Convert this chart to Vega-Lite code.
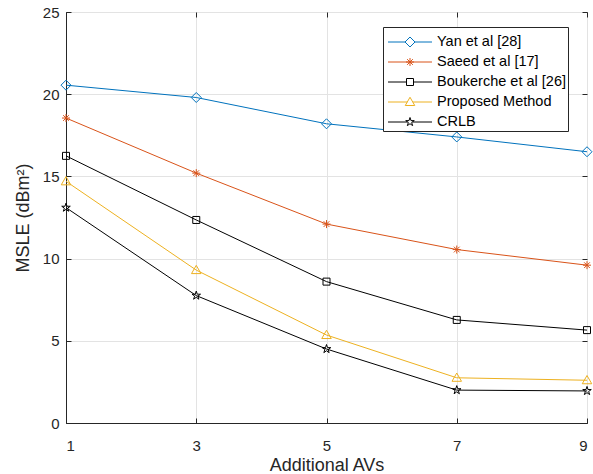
{
  "$schema": "https://vega.github.io/schema/vega-lite/v6.json",
  "width": 521,
  "height": 411,
  "autosize": "none",
  "padding": {"left": 66, "top": 12, "right": 6, "bottom": 51},
  "background": "white",
  "config": {
    "font": "Liberation Sans",
    "view": {"stroke": "#262626", "strokeWidth": 1},
    "axis": {
      "labelFont": "Liberation Sans", "labelFontSize": 15, "labelColor": "#262626",
      "titleFont": "Liberation Sans", "titleFontSize": 18, "titleFontWeight": "normal", "titleColor": "#262626",
      "domainColor": "#262626", "tickColor": "#262626", "tickSize": -5,
      "gridColor": "#e3e3e3", "gridWidth": 1
    }
  },
  "data": {"values": [
    {"x": 1, "y": 20.55, "series": "Yan et al [28]"},
    {"x": 3, "y": 19.8, "series": "Yan et al [28]"},
    {"x": 5, "y": 18.2, "series": "Yan et al [28]"},
    {"x": 7, "y": 17.4, "series": "Yan et al [28]"},
    {"x": 9, "y": 16.5, "series": "Yan et al [28]"},
    {"x": 1, "y": 18.55, "series": "Saeed et al [17]"},
    {"x": 3, "y": 15.2, "series": "Saeed et al [17]"},
    {"x": 5, "y": 12.1, "series": "Saeed et al [17]"},
    {"x": 7, "y": 10.55, "series": "Saeed et al [17]"},
    {"x": 9, "y": 9.6, "series": "Saeed et al [17]"},
    {"x": 1, "y": 16.25, "series": "Boukerche et al [26]"},
    {"x": 3, "y": 12.35, "series": "Boukerche et al [26]"},
    {"x": 5, "y": 8.6, "series": "Boukerche et al [26]"},
    {"x": 7, "y": 6.27, "series": "Boukerche et al [26]"},
    {"x": 9, "y": 5.65, "series": "Boukerche et al [26]"},
    {"x": 1, "y": 14.7, "series": "Proposed Method"},
    {"x": 3, "y": 9.3, "series": "Proposed Method"},
    {"x": 5, "y": 5.35, "series": "Proposed Method"},
    {"x": 7, "y": 2.75, "series": "Proposed Method"},
    {"x": 9, "y": 2.6, "series": "Proposed Method"},
    {"x": 1, "y": 13.1, "series": "CRLB"},
    {"x": 3, "y": 7.75, "series": "CRLB"},
    {"x": 5, "y": 4.5, "series": "CRLB"},
    {"x": 7, "y": 2.0, "series": "CRLB"},
    {"x": 9, "y": 1.95, "series": "CRLB"}
  ]},
  "encoding": {
    "x": {"field": "x", "type": "quantitative",
      "scale": {"domain": [1, 9], "nice": false, "zero": false}, "axis": null},
    "y": {"field": "y", "type": "quantitative",
      "scale": {"domain": [0, 25], "nice": false}, "axis": null}
  },
  "resolve": {"axis": {"x": "independent", "y": "independent"}},
  "layer": [
    {
      "transform": [{"filter": "datum.series === 'Yan et al [28]'"}],
      "mark": {"type": "line", "strokeWidth": 1, "color": "#0072BD",
        "point": {"filled": false, "size": 100, "strokeWidth": 1, "color": "#0072BD", "shape": "M0,-1L1,0L0,1L-1,0Z"}},
      "encoding": {
        "x": {"field": "x", "type": "quantitative",
          "scale": {"domain": [1, 9], "nice": false, "zero": false},
          "axis": {"values": [1, 3, 5, 7, 9], "title": "Additional AVs", "labelPadding": 20, "titlePadding": 3, "grid": true}},
        "y": {"field": "y", "type": "quantitative",
          "scale": {"domain": [0, 25], "nice": false},
          "axis": {"values": [0, 5, 10, 15, 20, 25], "title": "MSLE (dBm²)", "labelPadding": 12, "titlePadding": 10, "grid": true}}
      }
    },
    {
      "transform": [{"filter": "datum.series === 'Saeed et al [17]'"}],
      "mark": {"type": "line", "strokeWidth": 1, "color": "#D95319",
        "point": {"filled": false, "size": 100, "strokeWidth": 1, "color": "#D95319", "shape": "M-0.8,0H0.8M0,-0.8V0.8M-0.57,-0.57L0.57,0.57M-0.57,0.57L0.57,-0.57"}}
    },
    {
      "transform": [{"filter": "datum.series === 'Boukerche et al [26]'"}],
      "mark": {"type": "line", "strokeWidth": 1, "color": "#000000",
        "point": {"filled": false, "size": 100, "strokeWidth": 1, "color": "#000000", "shape": "M-0.7,-0.7H0.7V0.7H-0.7Z"}}
    },
    {
      "transform": [{"filter": "datum.series === 'Proposed Method'"}],
      "mark": {"type": "line", "strokeWidth": 1, "color": "#EDB120",
        "point": {"filled": false, "size": 100, "strokeWidth": 1, "color": "#EDB120", "shape": "M0,-0.95L0.95,0.7H-0.95Z"}}
    },
    {
      "transform": [{"filter": "datum.series === 'CRLB'"}],
      "mark": {"type": "line", "strokeWidth": 1, "color": "#000000",
        "point": {"filled": false, "size": 100, "strokeWidth": 1, "color": "#000000", "shape": "M0,-0.9L0.203,-0.278L0.856,-0.278L0.327,0.106L0.529,0.728L0,0.344L-0.529,0.728L-0.327,0.106L-0.856,-0.278L-0.203,-0.278Z"}}
    },
    {
      "mark": {"type": "point", "filled": false, "size": 625, "strokeWidth": 1, "opacity": 0},
      "encoding": {
        "x": {"field": "x", "type": "quantitative",
          "scale": {"domain": [1, 9], "nice": false, "zero": false},
          "axis": {"orient": "top", "values": [1, 3, 5, 7, 9], "labels": false, "title": null, "grid": false, "domain": false}},
        "y": {"field": "y", "type": "quantitative",
          "scale": {"domain": [0, 25], "nice": false},
          "axis": {"orient": "right", "values": [0, 5, 10, 15, 20, 25], "labels": false, "title": null, "grid": false, "domain": false}},
        "stroke": {"field": "series", "type": "nominal",
          "scale": {"domain": ["Yan et al [28]", "Saeed et al [17]", "Boukerche et al [26]", "Proposed Method", "CRLB"],
                    "range": ["#0072BD", "#D95319", "#000000", "#EDB120", "#000000"]},
          "legend": {"title": null, "orient": "none", "legendX": 317, "legendY": 15,
            "strokeColor": "#262626", "fillColor": "white", "padding": 2,
            "labelFontSize": 14.5, "labelColor": "#000000", "symbolSize": 625,
            "symbolOffset": 12, "labelOffset": 14, "symbolStrokeWidth": 1, "rowPadding": 0, "symbolOpacity": 1}},
        "shape": {"field": "series", "type": "nominal",
          "scale": {"domain": ["Yan et al [28]", "Saeed et al [17]", "Boukerche et al [26]", "Proposed Method", "CRLB"],
                    "range": [
                      "M0,-0.4L0.4,0L0,0.4L-0.4,0Z M-1.76,0H-0.4M0.4,0H1.76",
                      "M-0.32,0H0.32M0,-0.32V0.32M-0.228,-0.228L0.228,0.228M-0.228,0.228L0.228,-0.228 M-1.76,0H1.76",
                      "M-0.28,-0.28H0.28V0.28H-0.28Z M-1.76,0H-0.28M0.28,0H1.76",
                      "M0,-0.38L0.38,0.28H-0.38Z M-1.76,0H-0.219M0.219,0H1.76",
                      "M0,-0.36L0.081,-0.111L0.342,-0.111L0.131,0.042L0.212,0.291L0,0.138L-0.212,0.291L-0.131,0.042L-0.342,-0.111L-0.081,-0.111Z M-1.76,0H-0.19M0.19,0H1.76"
                    ]},
          "legend": {"title": null, "orient": "none", "legendX": 317, "legendY": 15,
            "strokeColor": "#262626", "fillColor": "white", "padding": 2,
            "labelFontSize": 14.5, "labelColor": "#000000", "symbolSize": 625,
            "symbolOffset": 12, "labelOffset": 14, "symbolStrokeWidth": 1, "rowPadding": 0, "symbolOpacity": 1}}
      }
    }
  ]
}
